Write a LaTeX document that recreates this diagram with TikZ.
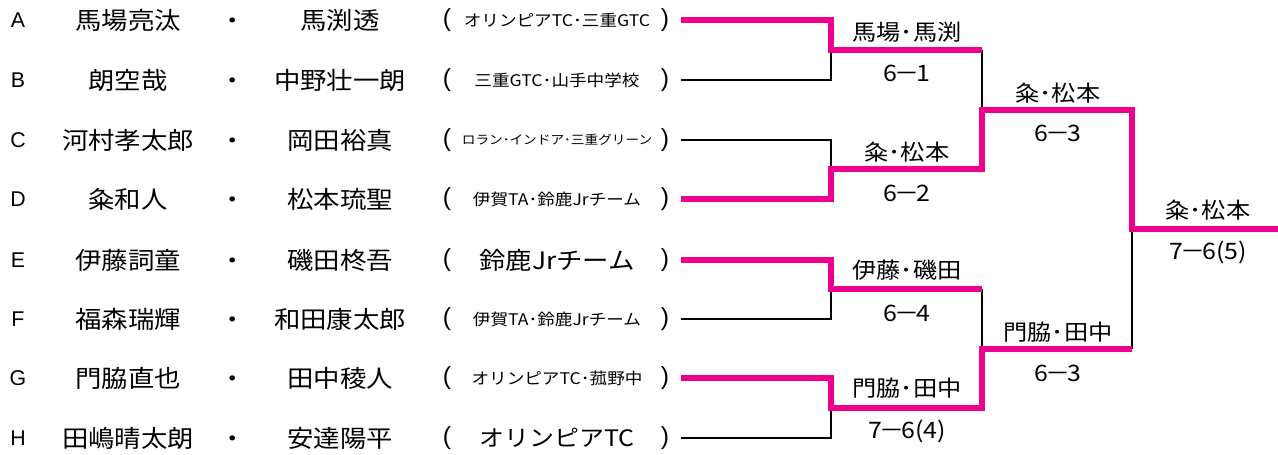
\documentclass[tikz,border=0pt]{standalone}
\usepackage{fontspec}
\setmainfont{Noto Sans CJK JP}[FakeStretch=1.1]
\newfontfamily\latinfont{Liberation Sans}
\definecolor{winpink}{RGB}{236,0,140}
\newcommand{\dash}{\kern-0.12em－\kern-0.12em}

\begin{document}
\begin{tikzpicture}[x=0.75pt,y=-0.75pt]
    \tikzstyle{every node}=[inner sep=0pt]
    \tikzstyle{letter}=[font=\latinfont\fontsize{16pt}{18pt}\selectfont]
    \tikzstyle{player}=[font=\fontsize{18pt}{20pt}\selectfont]
    \tikzstyle{paren}=[font=\latinfont\fontsize{18.5pt}{20pt}\selectfont]
    \tikzstyle{winner}=[font=\fontsize{16.5pt}{18pt}\selectfont]
    \tikzstyle{score}=[font=\fontsize{17pt}{19pt}\selectfont]
    \tikzstyle{lose}=[draw=black,line width=1.2pt]
    \tikzstyle{won}=[draw=winpink,line width=4.5pt]

\useasboundingbox (0,0) rectangle (1278,454);

% entries
\foreach \r/\y/\pa/\pb/\sz/\cl in {
A/20/馬場亮汰/馬渕透/12/オリンピアTC･三重GTC,
B/80/朗空哉/中野壮一朗/12/三重GTC･山手中学校,
C/140/河村孝太郎/岡田裕真/9.3/ロラン･インドア･三重グリーン,
D/199/粂和人/松本琉聖/12/伊賀TA･鈴鹿Jrチーム,
E/260/伊藤詞童/磯田柊吾/18/鈴鹿Jrチーム,
F/319/福森瑞輝/和田康太郎/12/伊賀TA･鈴鹿Jrチーム,
G/378/門脇直也/田中稜人/12/オリンピアTC･菰野中,
H/438/田嶋晴太朗/安達陽平/17/オリンピアTC}{
\node[letter] (l\r) at (18,\y) {\r};
\node[player] (p\r) at (128,\y) {\pa};
\node[player,anchor=base] (d\r) at (233,\y+9) {・};
\node[player] (q\r) at (340,\y) {\pb};
\node[paren] (o\r) at (447,\y) {(};
\node[font=\fontsize{\sz pt}{\sz pt}\selectfont] (c\r) at (557,\y) {\cl};
\node[paren] (x\r) at (665,\y) {)};
\coordinate (e\r) at (681,\y);
};

% bracket
\coordinate (m1) at (831,50);
\coordinate (m2) at (831,169);
\coordinate (m3) at (831,289);
\coordinate (m4) at (831,408);
\coordinate (s1) at (982,110);
\coordinate (s2) at (982,349);
\coordinate (f) at (1132,229);
\coordinate (champ) at (1278,229);

\draw[lose] (eB) -| (m1);
\draw[lose] (eC) -| (m2);
\draw[lose] (eF) -| (m3);
\draw[lose] (eH) -| (m4);
\draw[lose] (m1 -| s1) -- (s1);
\draw[lose] (m3 -| s2) -- (s2);
\draw[lose] (s2 -| f) -- (f);

\draw[won] (eA) -| (m1) -- (m1 -| s1);
\draw[won] (eD) -| (m2) -- (m2 -| s1) -- (s1) -| (f) -- (champ);
\draw[won] (eE) -| (m3) -- (m3 -| s2);
\draw[won] (eG) -| (m4) -- (m4 -| s2) -- (s2) -- (s2 -| f);

% results
\node[winner] (w1) at (907,32) {馬場･馬渕};
\node[score] (r1) at (907,73) {6\dash 1};
\node[winner] (w2) at (907,152) {粂･松本};
\node[score] (r2) at (907,193) {6\dash 2};
\node[winner] (w3) at (907,270) {伊藤･磯田};
\node[score] (r3) at (907,313) {6\dash 4};
\node[winner] (w4) at (907,388) {門脇･田中};
\node[score] (r4) at (907,431) {7\dash 6(4)};
\node[winner] (w5) at (1058,93) {粂･松本};
\node[score] (r5) at (1058,133) {6\dash 3};
\node[winner] (w6) at (1058,332) {門脇･田中};
\node[score] (r6) at (1058,373) {6\dash 3};
\node[winner] (w7) at (1208,210) {粂･松本};
\node[score] (r7) at (1208,252) {7\dash 6(5)};
\end{tikzpicture}
\end{document}
